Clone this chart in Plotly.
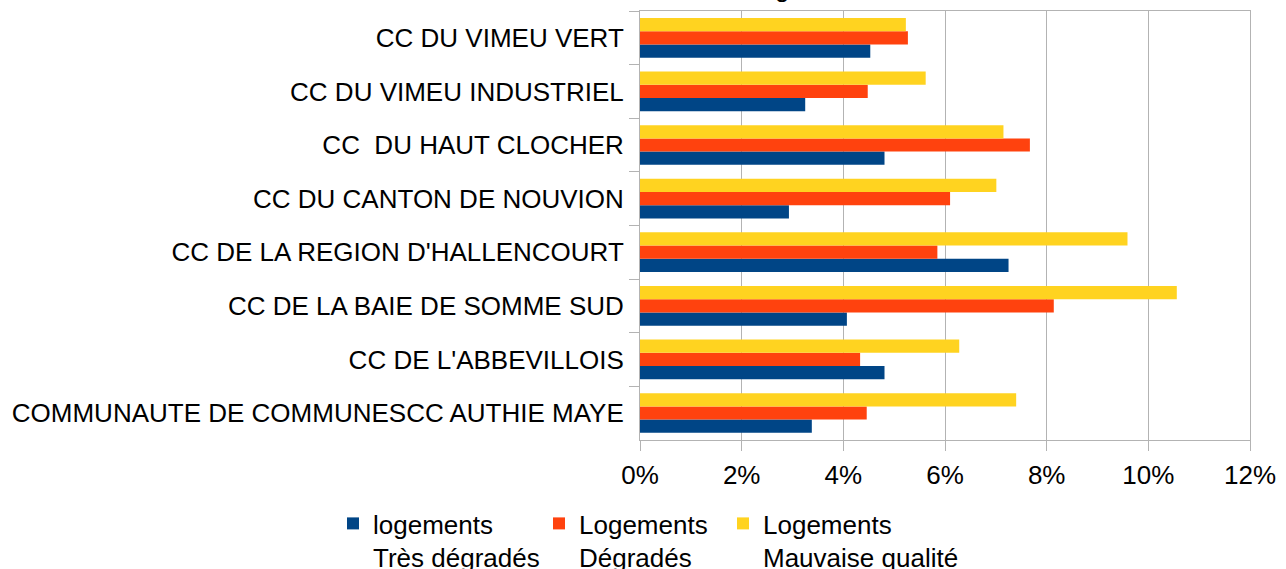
import plotly.graph_objects as go

# Communautés de communes, listed top to bottom as displayed
categories = [
    "CC DU VIMEU VERT",
    "CC DU VIMEU INDUSTRIEL",
    "CC \u00a0DU HAUT CLOCHER",
    "CC DU CANTON DE NOUVION",
    "CC DE LA REGION D'HALLENCOURT",
    "CC DE LA BAIE DE SOMME SUD",
    "CC DE L'ABBEVILLOIS",
    "COMMUNAUTE DE COMMUNESCC AUTHIE MAYE",
]

# Shares of dwellings (fractions)
tres_degrades = [0.0453, 0.0325, 0.0481, 0.0293, 0.0725, 0.0407, 0.0481, 0.0338]
degrades = [0.0527, 0.0448, 0.0767, 0.0610, 0.0585, 0.0814, 0.0433, 0.0446]
mauvaise_qualite = [0.0523, 0.0562, 0.0715, 0.0701, 0.0959, 0.1056, 0.0628, 0.0740]

series = [
    ("logements<br>Très dégradés", tres_degrades, "#004586", "legend"),
    ("Logements<br>Dégradés", degrades, "#ff420e", "legend2"),
    ("Logements<br>Mauvaise qualité", mauvaise_qualite, "#ffd320", "legend3"),
]

FONT = "Liberation Sans, Arial, sans-serif"
GRID = "#b3b3b3"
FS = 26

fig = go.Figure()
for name, vals, color, leg in series:
    fig.add_trace(go.Bar(
        y=categories, x=vals, name=name, orientation="h",
        marker=dict(color=color, line=dict(width=0)),
        legend=leg, showlegend=True,
    ))

legend_common = dict(
    orientation="h", xref="container", yref="container",
    yanchor="top", xanchor="left", valign="top",
    font=dict(family=FONT, size=FS, color="#000000"),
    bgcolor="rgba(0,0,0,0)", borderwidth=0,
    itemwidth=30, tracegroupgap=0, visible=True,
)
leg_y = 1 - 500 / 569

fig.update_layout(
    width=1286, height=569,
    margin=dict(l=640, r=28, t=10, b=127),
    paper_bgcolor="white", plot_bgcolor="white",
    font=dict(family=FONT, size=FS, color="#000000"),
    showlegend=True,
    barmode="group", bargap=0.26, bargroupgap=0,
    legend=dict(x=333 / 1286, y=leg_y, **legend_common),
    legend2=dict(x=539 / 1286, y=leg_y, **legend_common),
    legend3=dict(x=723 / 1286, y=leg_y, **legend_common),
    xaxis=dict(
        range=[0, 0.12], dtick=0.02, tickformat=".0%",
        showgrid=True, gridcolor=GRID, gridwidth=1,
        showline=True, linecolor=GRID, linewidth=1, mirror=True,
        ticks="outside", ticklen=10, tickcolor=GRID,
        ticklabelstandoff=2, zeroline=False,
        tickfont=dict(family=FONT, size=FS, color="#000000"),
    ),
    yaxis=dict(
        categoryorder="array", categoryarray=list(reversed(categories)),
        showgrid=False, showline=True, linecolor=GRID, linewidth=1,
        mirror=True, ticks="outside", ticklen=10, tickcolor=GRID,
        tickson="boundaries", ticklabelstandoff=10,
        tickfont=dict(family=FONT, size=FS, color="#000000"),
    ),
    annotations=[dict(
        text="Logements", xref="paper", yref="paper", x=0.28, y=1,
        xanchor="center", yanchor="bottom", yshift=6, showarrow=False,
        font=dict(family=FONT, size=FS, color="#000000"),
    )],
)

fig.write_html("out.html")
